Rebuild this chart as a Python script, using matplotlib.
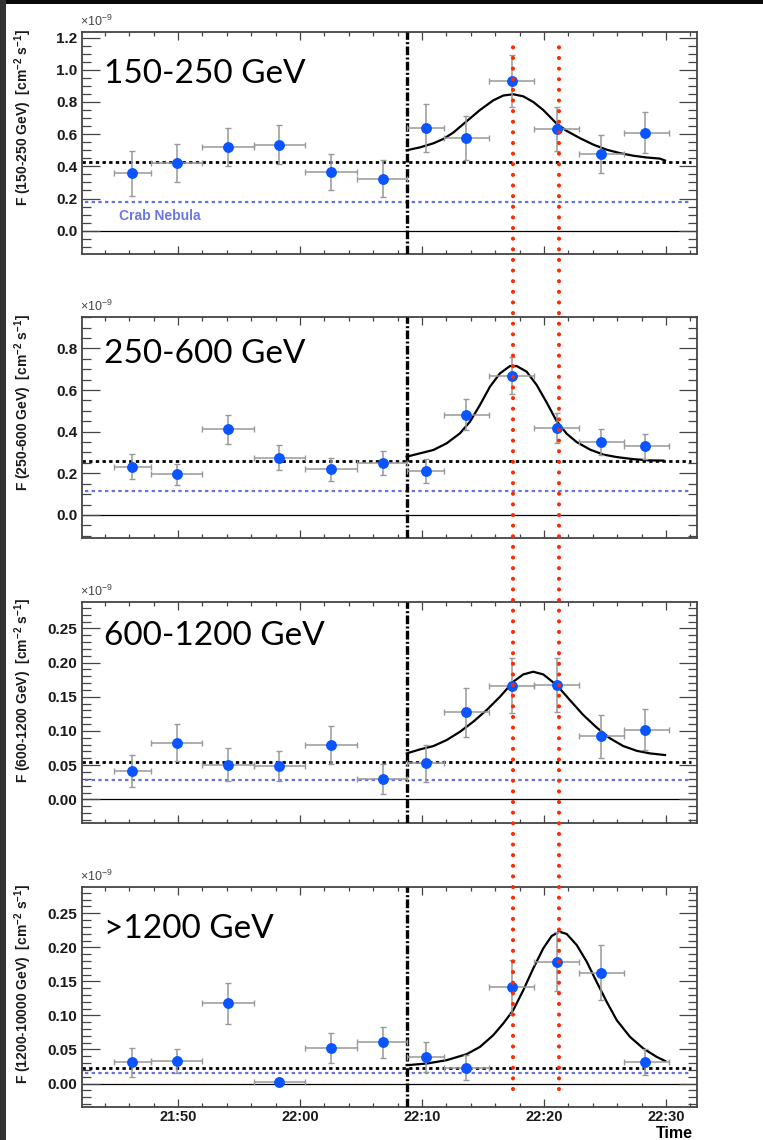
import numpy as np
import matplotlib
matplotlib.use("Agg")
import matplotlib.pyplot as plt
from matplotlib.ticker import MultipleLocator, FuncFormatter
from matplotlib.lines import Line2D
from matplotlib.patches import Rectangle
import matplotlib.transforms as mtransforms

# ---------------- data (time in minutes relative to 22:00) ----------------
point_time = [-13.75, -10.11, -5.93, -1.70, 2.52, 6.78, 10.35, 13.63, 17.35, 21.04, 24.70, 28.30]
bin_start = [-15.22, -12.24, -8.01, -3.77, 0.43, 4.65, 8.75, 11.80, 15.52, 19.16, 22.87, 26.53]
bin_end = [-12.24, -8.01, -3.77, 0.43, 4.65, 8.75, 11.80, 15.52, 19.16, 22.87, 26.53, 30.22]

energy_labels = ["150-250 GeV", "250-600 GeV", "600-1200 GeV", ">1200 GeV"]
y_labels = ["F (150-250 GeV)  [cm$^{-2}$ s$^{-1}$]",
            "F (250-600 GeV)  [cm$^{-2}$ s$^{-1}$]",
            "F (600-1200 GeV)  [cm$^{-2}$ s$^{-1}$]",
            "F (1200-10000 GeV)  [cm$^{-2}$ s$^{-1}$]"]

flux_1 = [0.357, 0.420, 0.520, 0.534, 0.365, 0.323, 0.640, 0.578, 0.932, 0.632, 0.476, 0.609]
err_1 = [0.139, 0.118, 0.121, 0.122, 0.113, 0.114, 0.149, 0.137, 0.163, 0.134, 0.117, 0.127]
flux_2 = [0.232, 0.195, 0.411, 0.275, 0.219, 0.250, 0.211, 0.481, 0.669, 0.418, 0.349, 0.331]
err_2 = [0.060, 0.050, 0.068, 0.061, 0.055, 0.057, 0.058, 0.075, 0.090, 0.071, 0.062, 0.060]
flux_3 = [0.0414, 0.0828, 0.0506, 0.0487, 0.0794, 0.0297, 0.0526, 0.127, 0.166, 0.1667, 0.0925, 0.102]
err_3 = [0.0230, 0.0270, 0.0243, 0.0224, 0.0277, 0.0214, 0.0265, 0.0357, 0.0400, 0.0395, 0.0313, 0.0305]
flux_4 = [0.0313, 0.0332, 0.1176, 0.0029, 0.0524, 0.0603, 0.0391, 0.0235, 0.142, 0.179, 0.163, 0.0313]
err_4 = [0.0214, 0.0174, 0.0304, 0.0059, 0.0220, 0.0232, 0.0226, 0.0189, 0.0395, 0.0435, 0.0403, 0.0191]

baseline = [0.425, 0.258, 0.054, 0.023]
crab = [0.176, 0.115, 0.0278, 0.0156]

curve_t_1 = [8.75, 9.84, 10.93, 11.75, 12.57, 13.66, 14.75, 15.84, 16.66, 17.48, 18.30, 19.12,
             19.94, 21.04, 21.86, 22.95, 24.04, 25.14, 26.23, 27.32, 28.42, 29.50, 29.92]
curve_f_1 = [0.500, 0.518, 0.543, 0.570, 0.610, 0.680, 0.750, 0.810, 0.840, 0.848, 0.835, 0.800,
             0.750, 0.665, 0.620, 0.575, 0.535, 0.503, 0.482, 0.466, 0.455, 0.448, 0.436]
curve_t_2 = [8.75, 9.84, 10.93, 12.02, 13.11, 13.93, 14.75, 15.57, 16.39, 17.21, 17.76, 18.58,
             19.40, 20.22, 21.04, 21.86, 22.68, 23.77, 24.86, 25.96, 27.32, 28.69, 29.78]
curve_f_2 = [0.280, 0.296, 0.312, 0.344, 0.392, 0.448, 0.528, 0.616, 0.680, 0.715, 0.715, 0.688,
             0.624, 0.540, 0.450, 0.390, 0.350, 0.314, 0.290, 0.278, 0.268, 0.262, 0.261]
curve_t_3 = [8.75, 9.84, 10.93, 12.02, 13.11, 14.20, 15.30, 16.39, 17.48, 18.30, 19.12, 19.94,
             21.04, 22.13, 23.22, 24.32, 25.41, 26.50, 27.60, 28.69, 29.92]
curve_f_3 = [0.0672, 0.0731, 0.0779, 0.0867, 0.0988, 0.1135, 0.1306, 0.150, 0.172, 0.1827, 0.1866,
             0.1827, 0.167, 0.145, 0.1233, 0.105, 0.0892, 0.0779, 0.071, 0.0672, 0.0648]
curve_t_4 = [8.75, 10.39, 12.02, 13.66, 14.75, 15.84, 16.66, 17.48, 18.30, 19.12, 19.94, 20.63,
             21.25, 21.86, 22.68, 23.50, 24.32, 25.14, 25.96, 27.05, 28.14, 29.24, 29.92]
curve_f_4 = [0.0269, 0.0294, 0.0343, 0.0431, 0.0538, 0.071, 0.0882, 0.1078, 0.137, 0.169, 0.1985,
             0.2166, 0.223, 0.2196, 0.2034, 0.179, 0.149, 0.120, 0.0931, 0.0685, 0.0515, 0.0391, 0.0332]

flare_start = 8.75
red_marks = [17.48, 21.25]
x_major_ticks = [-10, 0, 10, 20, 30]

# ---------------- style ----------------
plt.rcParams['font.family'] = ['Liberation Sans', 'DejaVu Sans']
plt.rcParams['mathtext.fontset'] = 'custom'
plt.rcParams['mathtext.rm'] = 'Liberation Sans:bold'
plt.rcParams['mathtext.bf'] = 'Liberation Sans:bold'
plt.rcParams['mathtext.sf'] = 'Liberation Sans'
plt.rcParams['mathtext.default'] = 'rm'

W, H = 763, 1140
fig = plt.figure(figsize=(W / 100, H / 100), dpi=100)
fig.patch.set_facecolor('white')

# dark borders of the screenshot
fig.patches.append(Rectangle((0, 1 - 4 / H), 1, 4 / H, transform=fig.transFigure,
                             facecolor='#0a0a0a', edgecolor='none', zorder=0))
fig.patches.append(Rectangle((0, 0), 6 / W, 1, transform=fig.transFigure,
                             facecolor='#333333', edgecolor='none', zorder=0))

panels_px = [(32, 254), (316.7, 538.3), (601.7, 823.3), (886.7, 1106.7)]
left_px, right_px = 82, 697
ylims = [(-0.145, 1.235), (-0.112, 0.952), (-0.035, 0.289), (-0.034, 0.289)]
ymaj = [0.2, 0.2, 0.05, 0.05]
ymin_ = [0.05, 0.05, 0.01, 0.01]
yfmt = ["%.1f", "%.1f", "%.2f", "%.2f"]
label_base_y = [0.770, 0.791, 0.805, 0.767]

fluxes = [flux_1, flux_2, flux_3, flux_4]
errs = [err_1, err_2, err_3, err_4]
curves_t = [curve_t_1, curve_t_2, curve_t_3, curve_t_4]
curves_f = [curve_f_1, curve_f_2, curve_f_3, curve_f_4]

xlim = ((left_px - 300) / 12.2, (right_px - 300) / 12.2)

def tfmt(v, pos):
    tot = int(round(22 * 60 + v))
    return "%d:%02d" % (tot // 60, tot % 60)

frame_col = '#444444'
axes = []
t = np.array(point_time)
xerr = [t - np.array(bin_start), np.array(bin_end) - t]
for i in range(4):
    top, bot = panels_px[i]
    ax = fig.add_axes([left_px / W, 1 - bot / H, (right_px - left_px) / W, (bot - top) / H])
    axes.append(ax)
    ax.set_xlim(*xlim)
    ax.set_ylim(*ylims[i])
    for sp in ax.spines.values():
        sp.set_color(frame_col)
        sp.set_linewidth(1.3)

    # reference lines
    ax.axhline(0, color='black', lw=0.9, zorder=1)
    ax.axhline(baseline[i], xmin=0, xmax=0.991, color='black', lw=2.0,
               linestyle=(0, (1.2, 1.2)), zorder=2)
    ax.axhline(crab[i], xmin=0.005, xmax=0.991, color='#6470e6', lw=1.6,
               linestyle=(0, (1.5, 1.5)), zorder=2)
    ax.axvline(flare_start, color='black', lw=2.4,
               linestyle=(0, (2.6, 0.7, 0.6, 0.7)), zorder=3)

    # fit curve
    ax.plot(curves_t[i], curves_f[i], color='black', lw=1.6, zorder=4,
            solid_joinstyle='round')

    # data points
    ax.errorbar(point_time, fluxes[i], xerr=xerr, yerr=errs[i], fmt='none',
                ecolor='#999999', elinewidth=1.1, capsize=2.4, capthick=1.0, zorder=5)
    ax.plot(point_time, fluxes[i], 'o', color='#0a55ff', ms=6.8, mec='#0a55ff', zorder=6)

    # ticks
    ax.xaxis.set_major_locator(plt.FixedLocator(x_major_ticks))
    ax.xaxis.set_minor_locator(MultipleLocator(2))
    ax.yaxis.set_major_locator(MultipleLocator(ymaj[i]))
    ax.yaxis.set_minor_locator(MultipleLocator(ymin_[i]))
    ax.yaxis.set_major_formatter(FuncFormatter(lambda v, p, f=yfmt[i]: f % (0 if abs(v) < 1e-9 else v)))
    ax.tick_params(which='both', direction='in', top=True, right=True, color=frame_col, width=0.9)
    ax.tick_params(axis='x', which='major', length=6)
    ax.tick_params(axis='x', which='minor', length=3)
    ax.tick_params(axis='y', which='major', length=13)
    ax.tick_params(axis='y', which='minor', length=6.5)
    ax.tick_params(axis='y', labelsize=11, labelcolor='#1a1a1a', pad=3.5)
    for lab in ax.get_yticklabels():
        lab.set_fontweight('bold')
    if i < 3:
        ax.tick_params(axis='x', labelbottom=False)
    else:
        ax.xaxis.set_major_formatter(FuncFormatter(tfmt))
        ax.tick_params(axis='x', labelsize=10.5, labelcolor='#1a1a1a', pad=2.5)
        for lab in ax.get_xticklabels():
            lab.set_fontweight('bold')

    # labels
    ax.text(-0.096, 1.014, y_labels[i], rotation=90, ha='center', va='top',
            transform=ax.transAxes, fontsize=10, fontweight='bold', color='#1a1a1a')
    ax.text(-0.004, 1.012, r"$\mathsf{\times10^{-9}}$", ha='left', va='bottom',
            transform=ax.transAxes, fontsize=9, color='#444444')
    ax.text(0.036, label_base_y[i], energy_labels[i], ha='left', va='baseline',
            transform=ax.transAxes, fontsize=24, family=['Lato', 'DejaVu Sans'], color='black')

axes[0].text(-14.84, 0.091, "Crab Nebula", ha='left', va='center', fontsize=10,
             fontweight='bold', color='#6b78e0')

# red dotted vertical markers spanning all panels
blend = mtransforms.blended_transform_factory(axes[3].transData, fig.transFigure)
for rm in red_marks:
    ln = Line2D([rm, rm], [1 - 1089 / H, 1 - 37.5 / H], transform=blend, color='#ff2a00',
                lw=3.0, linestyle=(0, (0.001, 2.55)), dash_capstyle='round', zorder=10)
    fig.add_artist(ln)

fig.text(693 / W, 1 - 1137.5 / H, "Time", ha='right', va='baseline', fontsize=11.5,
         fontweight='bold', color='black')

fig.savefig("out.png", dpi=100)
